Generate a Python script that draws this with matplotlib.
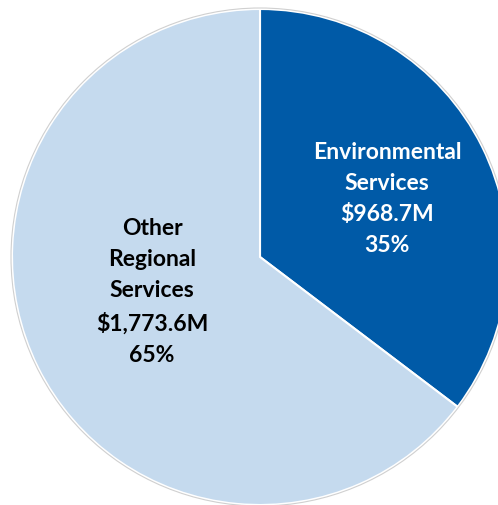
import matplotlib.pyplot as plt
from matplotlib.patches import Circle

# Budget split, in millions of dollars
names = ['Environmental\nServices', 'Other\nRegional\nServices']
amounts = [968.7, 1773.6]
shares = ['35%', '65%']
colors = ['#005AA7', '#C5DAEE']
text_colors = ['white', 'black']
label_xy = [(387, 307), (152, 214)]

plt.rcParams['font.family'] = ['Lato', 'DejaVu Sans']

fig = plt.figure(figsize=(4.98, 5.06), dpi=100)
ax = fig.add_axes([0, 0, 1, 1])

cx, cy, r = 260, 248, 248
ax.pie(amounts, colors=colors, startangle=90, counterclock=False,
       center=(cx, cy), radius=r, frame=True,
       wedgeprops=dict(edgecolor='white', linewidth=1.5))
ax.add_patch(Circle((cx, cy), r + 1, fill=False, edgecolor='#D0D0D0', lw=0.8))
ax.set_xlim(0, 498)
ax.set_ylim(0, 506)
ax.set_aspect('equal')
ax.axis('off')

for name, amt, pct, col, (x, y) in zip(names, amounts, shares, text_colors, label_xy):
    ax.text(x, y, f'{name}\n${amt:,.1f}M\n{pct}', ha='center', va='center',
            color=col, fontsize=16.5, fontweight='bold', linespacing=1.6)

fig.savefig('out.png', dpi=100)
